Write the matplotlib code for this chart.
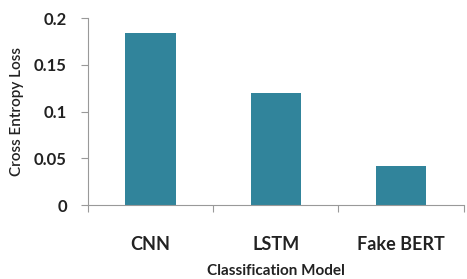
import matplotlib
matplotlib.use("Agg")
import matplotlib.pyplot as plt

models = ["CNN", "LSTM", "Fake BERT"]
loss = [0.184, 0.120, 0.042]
yticks = [0, 0.05, 0.1, 0.15, 0.2]
yticklabels = ["0", "0.05", "0.1", "0.15", "0.2"]

plt.rcParams['font.family'] = ['Lato', 'DejaVu Sans']

fig = plt.figure(figsize=(4.67, 2.79), dpi=100)
ax = fig.add_axes([0.188, 0.265, 0.805, 0.67])
x = list(range(len(models)))
ax.bar(x, loss, width=0.4, color="#31849B")
ax.set_xlim(-0.5, len(models) - 0.5)
ax.set_ylim(0, 0.2)
ax.set_yticks(yticks)
ax.set_yticklabels(yticklabels, fontsize=12, fontweight="bold", color="#222222")
ax.set_xticks([i - 0.5 for i in range(len(models) + 1)])
ax.set_xticklabels([])
ax.set_xticks(x, minor=True)
ax.set_xticklabels(models, minor=True, fontsize=13, fontweight="bold", color="#222222")
ax.tick_params(axis="x", which="minor", length=0, pad=22)
ax.tick_params(axis="x", which="major", length=5, color="#999999", direction="out")
ax.tick_params(axis="y", length=5, color="#999999", direction="out", pad=10)
for s in ["top", "right"]:
    ax.spines[s].set_visible(False)
for s in ["left", "bottom"]:
    ax.spines[s].set_color("#999999")
    ax.spines[s].set_linewidth(0.8)
ax.set_ylabel("Cross Entropy Loss", fontsize=11, fontweight="semibold", color="#222222", labelpad=7)
ax.set_xlabel("Classification Model", fontsize=11, fontweight="bold", color="#222222", labelpad=8)
fig.savefig("out.png", dpi=100)
